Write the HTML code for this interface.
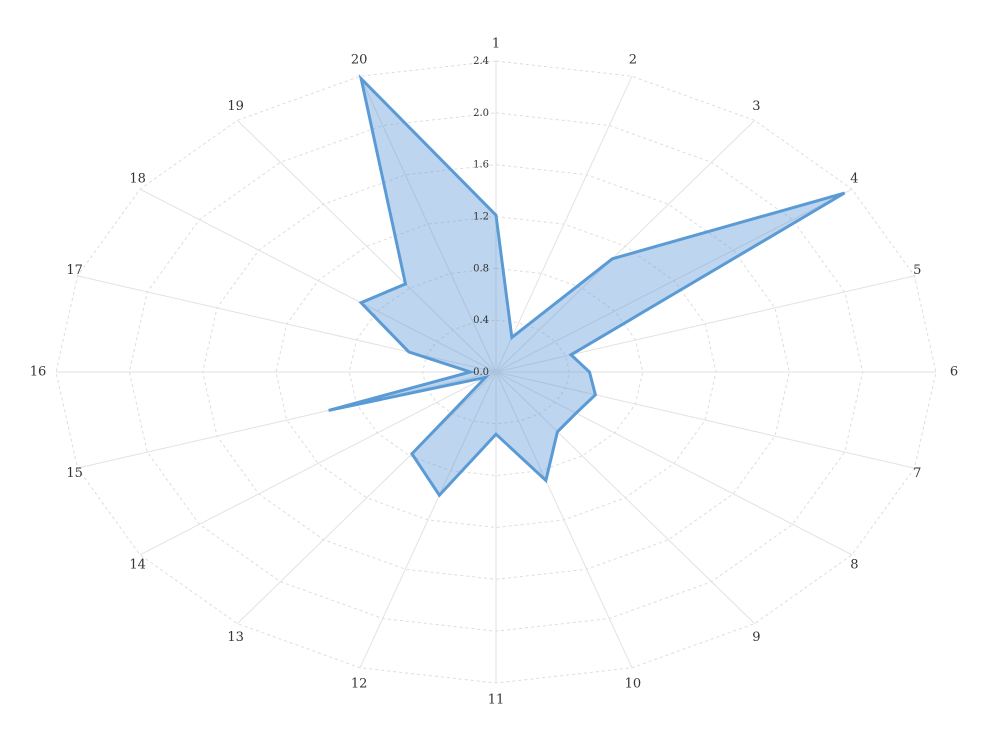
<!DOCTYPE html>
<html><head><meta charset="utf-8"><style>
body{margin:0;background:#fff}
svg{display:block;font-family:"DejaVu Serif","Liberation Serif",serif}
</style></head><body>
<svg id="chart" width="992" height="744" viewBox="0 0 992 744"></svg>
<script>
const categories=["1","2","3","4","5","6","7","8","9","10","11","12","13","14","15","16","17","18","19","20"];
const seriesValues=[1.21,0.28,1.08,2.35,0.43,0.51,0.57,0.54,0.57,0.88,0.48,1.0,0.78,0.07,0.96,0.14,0.5,0.91,0.84,2.38];
const tickLabels=["0.0","0.4","0.8","1.2","1.6","2.0","2.4"];
const tickValues=[0,0.4,0.8,1.2,1.6,2.0,2.4];
const maxV=2.4,cx=496,cy=372,rx=440,ry=311;
const NS="http://www.w3.org/2000/svg";
const svg=document.getElementById('chart');
function mk(t,a,p){const e=document.createElementNS(NS,t);for(const k in a)e.setAttribute(k,a[k]);(p||svg).appendChild(e);return e;}
function ang(i){return i*2*Math.PI/categories.length;}
function pt(i,v){const a=ang(i);return [cx+Math.sin(a)*rx*v/maxV,cy-Math.cos(a)*ry*v/maxV];}
const grid=mk('g',{});


tickValues.forEach(t=>{if(t===0)return;
 const p=mk('polygon',{points:categories.map((c,i)=>pt(i,t).join(',')).join(' '),fill:'none',stroke:'#ddd','stroke-dasharray':'3,3','stroke-width':1},grid);
 
 });
categories.forEach((c,i)=>{const [x,y]=pt(i,maxV);
 const l=mk('line',{x1:cx,y1:cy,x2:x,y2:y,stroke:'#e2e2e2','stroke-width':1},grid);
 
 
 const a=ang(i),s=Math.sin(a),co=Math.cos(a);
 const dx=Math.abs(co)<0.1?Math.sign(s)*18:s*3;
 const dy=-co*17;
 const tx=mk('text',{x:x+dx,y:y+dy,'text-anchor':'middle','dominant-baseline':'central','font-size':13,fill:'#333'});
 tx.textContent=c;
 
 });
const area=mk('polygon',{points:seriesValues.map((v,i)=>pt(i,v).join(',')).join(' '),fill:'rgba(91,151,212,0.4)',stroke:'#5b9bd5','stroke-width':3,'stroke-linejoin':'miter'});


tickValues.forEach((t,k)=>{const [x,y]=pt(0,t);
 const tx=mk('text',{x:x-7,y:y+3,'text-anchor':'end','font-size':10,fill:'#333'});
 tx.textContent=tickLabels[k];
 
 });
</script>
</body></html>
